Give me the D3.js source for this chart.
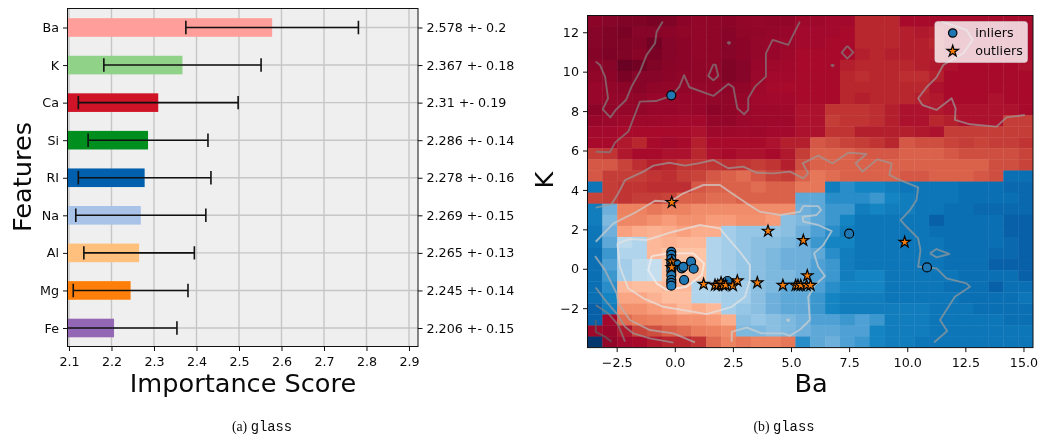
<!DOCTYPE html>
<html>
<head>
<meta charset="utf-8">
<title>glass</title>
<script src="https://d3js.org/d3.v7.min.js"></script>
<style>
  body { margin: 0; background: #fff; }
  svg { display: block; filter: blur(0.35px); }
  text { font-family: "DejaVu Sans", sans-serif; fill: #0a0a0a; }
  .tick text { font-size: 12.7px; }
  .tick line, .domain { stroke: #111; }
  .axislabel { font-size: 25.6px; }
  .caption { font-size: 13.8px; font-family: "Liberation Serif", serif; }
  .caption tspan { font-family: "Liberation Mono", monospace; }
</style>
</head>
<body>
<div id="chart"></div>
<script>
// left panel: feature importance
const features = ["Ba", "K", "Ca", "Si", "RI", "Na", "Al", "Mg", "Fe"];
const scores = [2.578, 2.367, 2.31, 2.286, 2.278, 2.269, 2.265, 2.245, 2.206];
const errors = [0.203, 0.185, 0.188, 0.141, 0.156, 0.153, 0.13, 0.135, 0.148];
const scoreLabels = ["2.578 +- 0.2", "2.367 +- 0.18", "2.31 +- 0.19", "2.286 +- 0.14", "2.278 +- 0.16",
  "2.269 +- 0.15", "2.265 +- 0.13", "2.245 +- 0.14", "2.206 +- 0.15"];
const barColors = ["#ff9e9a", "#90d288", "#cf1427", "#008f1f", "#0060ae", "#a8c2e8", "#ffc07e", "#ff7f0a", "#9467b4"];
const scoreTicks = [2.1, 2.2, 2.3, 2.4, 2.5, 2.6, 2.7, 2.8, 2.9];

// right panel: decision surface, 30 x 30 cells, top row first
const heatRows = [
  [14,12,10,10,8,10,14,16,15,14,16,17,16,16,20,20,22,22,32,32,32,24,24,24,24,24,24,24,24,24],
  [12,10,8,12,12,14,15,16,15,13,15,16,17,18,22,22,22,24,32,32,32,30,28,30,24,22,24,24,24,24],
  [12,10,10,11,6,12,14,16,15,12,14,17,18,19,22,22,24,24,32,32,32,30,30,32,24,24,24,24,24,24],
  [11,9,10,13,8,12,14,16,15,12,14,17,18,20,24,24,24,24,30,32,30,30,30,30,26,24,24,24,24,24],
  [14,12,4,6,10,13,14,15,15,10,12,18,20,21,24,24,24,30,32,32,32,32,30,28,26,24,24,24,24,26],
  [16,14,8,12,12,14,15,15,15,10,12,19,22,22,24,24,24,32,34,32,32,34,34,30,24,24,24,24,24,24],
  [18,16,14,13,15,16,16,17,16,14,15,20,23,24,24,24,24,32,32,32,32,32,32,26,24,24,24,24,24,24],
  [18,17,16,16,18,18,18,18,16,15,17,21,22,22,24,24,24,32,30,32,32,32,30,28,24,24,24,26,24,24],
  [14,16,17,16,18,18,19,18,14,15,18,20,20,21,26,26,36,36,36,34,30,26,26,28,26,26,26,26,26,24],
  [18,19,20,20,20,21,22,22,17,16,19,20,20,20,26,26,38,36,36,34,30,26,26,32,30,26,26,26,38,38],
  [22,22,24,24,24,24,24,26,20,20,21,20,22,22,26,26,36,36,30,30,30,30,28,26,38,38,38,38,38,38],
  [24,24,28,32,24,22,24,30,24,24,24,24,26,30,30,44,42,40,38,36,32,44,42,42,40,38,40,38,38,36],
  [38,36,28,24,24,26,26,32,26,24,26,26,24,28,38,46,46,46,44,44,44,46,46,46,44,42,42,42,42,40],
  [44,44,40,34,30,32,36,36,36,34,36,38,36,30,42,46,46,46,46,46,46,46,46,46,46,46,46,42,42,40],
  [44,38,38,38,36,34,38,40,44,46,48,44,40,38,46,50,48,46,46,46,46,44,44,46,46,46,44,42,94,94],
  [92,38,36,36,34,34,34,44,46,46,46,48,46,46,50,50,90,86,88,88,90,92,92,92,92,94,94,94,95,95],
  [40,38,36,38,38,40,46,46,48,48,46,46,46,46,80,80,86,86,86,84,88,90,92,92,92,94,94,94,94,95],
  [90,78,52,52,50,52,52,54,54,54,54,54,54,54,78,80,84,84,90,88,90,90,92,92,94,94,95,95,95,95],
  [90,76,53,53,55,57,55,55,57,57,55,55,57,74,76,80,84,88,92,92,92,92,92,96,94,94,94,94,96,96],
  [92,78,58,60,61,60,58,60,60,70,72,72,72,74,78,82,86,90,92,92,92,92,92,94,94,94,94,94,96,96],
  [92,80,66,68,62,61,62,62,68,70,72,74,74,76,78,84,88,88,92,92,92,92,92,92,94,94,94,94,95,96],
  [94,84,68,68,62,64,64,64,68,70,72,74,76,78,78,80,86,90,92,92,92,92,92,92,94,94,94,95,95,96],
  [94,82,70,66,65,64,64,64,68,70,72,74,76,78,78,82,84,90,92,92,92,92,92,92,94,94,94,96,96,96],
  [94,84,70,66,65,64,64,64,68,70,72,74,76,76,78,82,84,90,88,88,92,92,92,92,92,94,94,94,94,96],
  [94,86,62,63,63,62,62,68,68,70,70,74,76,80,80,82,86,88,88,88,92,92,92,92,94,94,94,96,94,94],
  [94,88,59,59,61,63,63,68,68,70,70,74,78,80,80,84,88,90,90,90,92,92,92,92,92,94,94,94,94,92],
  [96,90,55,55,57,59,62,60,62,70,72,74,78,80,80,84,88,90,90,90,90,90,90,92,92,92,94,94,94,94],
  [96,22,48,51,52,53,55,55,57,60,74,72,74,76,78,82,82,84,82,84,90,90,90,92,92,92,92,92,94,94],
  [20,18,28,40,42,46,48,51,52,54,76,76,74,76,78,80,80,82,82,88,90,90,90,92,92,92,92,92,92,92],
  [100,16,22,24,28,32,32,36,48,52,50,52,52,50,86,80,78,82,84,88,90,90,92,92,92,92,92,92,92,92]
];
const heatStops = [0, 8, 16, 24, 32, 40, 46, 52, 58, 64, 64.5, 70, 76, 82, 88, 94, 96, 100];
const heatColors = ["#5a0020", "#7a0325", "#92062a", "#a80a2c", "#b8262e", "#c8443a", "#da624a", "#ec8260", "#f9a07e",
  "#fdc4a6", "#c8e0f0", "#a3cde8", "#7db8df", "#4fa0d4", "#1484c2", "#0a6fb3", "#0860a8", "#06366e"];

// contour lines in data units (Ba, K), darkest level first
const contourA = [[-0.52,12.54],[-0.78,12.03],[-0.85,11.44],[-1.21,10.85],[-1.5,10],[-1.86,9.24],[-2.1,8.56],[-2.54,8.06],[-2.77,7.68],[-3.1,8.09],[-2.87,8.65],[-3,9.75],[-3.22,10.34],[-3.4,10.51]];
const contourB = [[-3.4,5.94],[-2.79,5.91],[-2.57,6.4],[-2,6.96],[-1.5,8.48],[-0.81,8.51],[-0.13,8.78],[0.2,9.24],[0.4,9.82],[0.63,9.21],[1.66,8.77],[2.3,9.38],[2.52,9.21],[2.69,8.14],[2.98,7.84],[3.16,8.06],[3.16,8.65],[3.45,9.24],[3.92,9.75],[3.92,10.93],[4.21,11.61],[4.88,11.36],[5.38,12.54]];
const contourB2 = [[1.66,10.37],[1.44,9.78],[1.66,9.56],[1.87,9.78],[1.76,10.34],[1.66,10.37]];
const contourB3 = [[7.42,11.31],[7.18,10.97],[7.42,10.66],[7.68,10.98],[7.42,11.31]];
const contourB4 = [[2.33,11.52],[2.38,11.47],[2.33,11.42],[2.28,11.47],[2.33,11.52]];
const contourB5 = [[6.79,10.37],[6.84,10.32],[6.79,10.27],[6.74,10.32],[6.79,10.37]];
const contourC = [[11.48,12.54],[12.55,12.12],[12.81,11.61],[12.41,10.93],[11.55,10.34],[11.26,9.71],[10.83,9.21],[10.47,8.65],[10.65,8.31],[11.26,8.06],[11.91,8.65],[12.08,8.14],[12.05,7.55],[12.7,7.33],[13.84,7.21],[14.27,7.68],[15.06,7.8]];
const contourD = [[-3.4,3.1],[-2.72,3.27],[-2.43,3.83],[-2.14,4.5],[-1.35,4.93],[-0.92,5.23],[-0.23,5.38],[0.44,5.23],[1.01,5.35],[1.66,5.52],[2.3,5.1],[2.95,5.18],[3.52,4.87],[4.24,4.84],[4.955,4.93],[5.53,4.59],[5.74,4.84],[5.5,5.35],[6.17,5.74],[6.79,5.35],[7.46,5.89],[8.25,5.82],[7.78,5.35],[8.08,4.93],[8.71,5.55],[9.33,5.35],[9.23,4.76],[9.61,4.54],[10.47,4.13],[10.4,3.49],[10.12,2.98],[9.71,2.47],[9.97,2.13],[10.47,1.54],[10.57,0.95],[10.47,0.1],[11.26,0.02],[11.69,-0.49],[12.55,-0.74],[12.7,-0.91],[12.05,-1.42],[11.41,-2.6],[11.72,-3.16],[11.15,-3.74]];
const contourD2 = [[10.98,0.78],[11.26,1],[11.81,0.75],[11.26,0.58],[10.98,0.78]];
const contourF = [[-3.4,1.37],[-2.64,2.3],[-1.64,2.89],[-0.85,3.45],[-0.21,3.4],[0.37,3.83],[1.23,4.25],[1.94,4.25],[2.45,3.83],[3.09,3.32],[3.66,2.89],[4.55,2.73],[5.39,2.89],[5.53,3.18],[6.17,3.18],[6.29,2.98],[6.1,2.73],[5.5,2.64],[5.53,2.39],[6.17,2.22],[6.75,1.91],[6.39,1.2],[5.99,0.78],[6.17,0.1],[6.46,-0.37],[6.03,-0.83],[5.74,-1.42],[5.81,-2.6],[5.39,-3.08],[4.955,-3.4],[4.67,-3.28],[3.74,-3.28],[3.09,-2.98],[2.45,-3.2],[2.45,-3.7]];
const contourG = [[-2.47,1.29],[-1.93,1.51],[-1.21,1.46],[-0.06,1.88],[1.08,2.22],[1.94,2.05],[2.3,1.54],[2.8,0.86],[3.23,0.19],[3.23,-0.57],[3.02,-1.42],[2.45,-1.93],[1.37,-2.3],[0.37,-2.1],[-0.49,-1.93],[-1.35,-1.5],[-2,-1],[-2.36,0.1],[-2.47,1.29]];
const contourH = [[-0.99,0.64],[-0.28,0.78],[0.8,0.78],[1.26,0.27],[1.16,-0.32],[0.51,-0.91],[-0.35,-1.08],[-0.78,-0.74],[-1.14,-0.07],[-0.99,0.64]];
const contourL1 = [[-3.43,0.64],[-3,-0.07],[-2.72,-0.74],[-2.5,-1.25],[-2.43,-1.76],[-1.93,-2.6],[-1.07,-3.11],[-0.06,-3.28],[0.87,-3.74]];
const contourL2 = [[-3.4,-0.95],[-3,-1.59],[-2.5,-2.27],[-2.14,-2.94],[-1.78,-3.28],[-1.07,-3.53],[-0.06,-3.75]];
const contourL3 = [[-3.4,-1.84],[-2.86,-2.27],[-2.43,-2.86],[-2.14,-3.7]];
const contourL4 = [[-3.4,-2.6],[-3.4,-3.2],[-3,-3.45],[-2.72,-3.7]];
const contourDot = [[4.88,-2.55],[4.93,-2.6],[4.88,-2.65],[4.83,-2.6],[4.88,-2.55]];
const contourSets = [
  [contourL4],
  [contourA, contourB, contourB2, contourB3, contourB4, contourB5, contourL3],
  [contourC, contourD, contourD2, contourL2],
  [contourL1],
  [contourF, contourDot],
  [contourG],
  [contourH]
];
const levelColors = ["#606060", "#808080", "#9a9a9a", "#b4b4b4", "#cfcfcf", "#e4e4e4", "#f2f2f2"];

const inliers = [[-0.15,8.8],[7.5,1.78],[10.85,0.07],[-0.15,0.86],[-0.15,0.7],[-0.15,0.5],[-0.15,0.3],[-0.15,0.1],[-0.15,-0.1],[-0.15,-0.32],[-0.15,-0.57],[-0.15,-0.72],[-0.15,-0.86],[0.08,0.22],[0.3,0.02],[0.37,0.1],[0.7,0.36],[0.81,0],[0.4,-0.57],[2.1,-0.75],[2.27,-0.62],[1.95,-0.8]];
const outliers = [[-0.13,3.37],[-0.13,0.36],[-0.13,0.07],[1.24,-0.78],[1.73,-0.83],[1.85,-0.84],[1.99,-0.71],[2.08,-0.84],[2.19,-0.83],[2.5,-0.86],[2.69,-0.61],[3.55,-0.71],[4.65,-0.84],[4.01,1.91],[5.53,1.44],[9.89,1.35],[5.7,-0.35],[5.2,-0.84],[5.3,-0.84],[5.42,-0.84],[5.67,-0.84],[5.84,-0.84]];
const baTicks = [-2.5, 0, 2.5, 5, 7.5, 10, 12.5, 15];
const kTicks = [-2, 0, 2, 4, 6, 8, 10, 12];

let svg = d3.select("#chart").append("svg")
  .attr("width", 1038).attr("height", 441);

// ---- left panel
const left1 = 67.5, right1 = 418, top1 = 8.5, bottom1 = 346.5;
let x1 = d3.scaleLinear().domain([2.0965, 2.9212]).range([left1, right1]);
let y1 = d3.scalePoint().domain(features).range([27.5, 328]);

svg.append("rect").attr("x", left1).attr("y", top1)
  .attr("width", right1 - left1).attr("height", bottom1 - top1).attr("fill", "#efefef");
svg.append("clipPath").attr("id", "clip1").append("rect")
  .attr("x", left1).attr("y", top1).attr("width", right1 - left1).attr("height", bottom1 - top1);

svg.append("g").selectAll("line").data(scoreTicks).enter().append("line")
  .attr("x1", d => x1(d)).attr("x2", d => x1(d))
  .attr("y1", top1).attr("y2", bottom1)
  .attr("stroke", "#c6c6c6").attr("stroke-width", 1.4);
svg.append("g").selectAll("line").data(features).enter().append("line")
  .attr("x1", left1).attr("x2", right1)
  .attr("y1", d => y1(d)).attr("y2", d => y1(d))
  .attr("stroke", "#c6c6c6").attr("stroke-width", 1.4);

let plot1 = svg.append("g").attr("clip-path", "url(#clip1)");
plot1.selectAll("rect").data(features).enter().append("rect")
  .attr("x", left1)
  .attr("y", d => y1(d) - 9.3)
  .attr("height", 18.6)
  .attr("width", (d, i) => x1(scores[i]) - left1)
  .attr("fill", (d, i) => barColors[i]);

let errs = plot1.selectAll("g.err").data(features).enter().append("g").attr("class", "err")
  .attr("stroke", "#111").attr("stroke-width", 1.6);
errs.append("line")
  .attr("x1", (d, i) => x1(scores[i] - errors[i]))
  .attr("x2", (d, i) => x1(scores[i] + errors[i]))
  .attr("y1", d => y1(d)).attr("y2", d => y1(d));
[-1, 1].forEach(function(side) {
  errs.append("line")
    .attr("x1", (d, i) => x1(scores[i] + side * errors[i]))
    .attr("x2", (d, i) => x1(scores[i] + side * errors[i]))
    .attr("y1", d => y1(d) - 6.7).attr("y2", d => y1(d) + 6.7);
});

svg.append("g").attr("transform", "translate(0," + bottom1 + ")")
  .call(d3.axisBottom(x1).tickValues(scoreTicks).tickFormat(d3.format(".1f")).tickSize(4.5).tickPadding(5.5))
  .call(g => g.select(".domain").remove());
svg.append("g").attr("transform", "translate(" + left1 + ",0)")
  .call(d3.axisLeft(y1).tickSize(4.5).tickPadding(4))
  .call(g => g.select(".domain").remove());
svg.append("g").attr("transform", "translate(" + right1 + ",0)")
  .call(d3.axisRight(y1).tickSize(4.5).tickPadding(4).tickFormat((d, i) => scoreLabels[i]))
  .call(g => g.select(".domain").remove());
svg.append("rect").attr("x", left1).attr("y", top1)
  .attr("width", right1 - left1).attr("height", bottom1 - top1)
  .attr("fill", "none").attr("stroke", "#111");

svg.append("text").attr("class", "axislabel").attr("text-anchor", "middle")
  .attr("x", 243).attr("y", 392).text("Importance Score");
svg.append("text").attr("class", "axislabel").attr("text-anchor", "middle")
  .attr("transform", "translate(31,177) rotate(-90)").text("Features");

// ---- right panel
let x2 = d3.scaleLinear().domain([-3.755, 15.41]).range([587.5, 1033]);
let y2 = d3.scaleLinear().domain([-4, 12.85]).range([347.6, 15.5]);
let colBand = d3.scaleBand().domain(d3.range(30)).range([587.5, 1033]);
let rowBand = d3.scaleBand().domain(d3.range(30)).range([15.5, 347.6]);
let heatColor = d3.scaleLinear().domain(heatStops).range(heatColors);

svg.append("clipPath").attr("id", "clip2").append("rect")
  .attr("x", 587.5).attr("y", 15.5).attr("width", 445.5).attr("height", 332.1);
let plot2 = svg.append("g").attr("clip-path", "url(#clip2)");

heatRows.forEach(function(row, r) {
  plot2.append("g").selectAll("rect").data(row).enter().append("rect")
    .attr("x", (d, c) => colBand(c))
    .attr("y", rowBand(r))
    .attr("width", colBand.bandwidth() + 0.4)
    .attr("height", rowBand.bandwidth() + 0.4)
    .attr("fill", d => heatColor(d));
});

let contourLine = d3.line().x(d => x2(d[0])).y(d => y2(d[1]));
contourSets.forEach(function(set, level) {
  plot2.append("g").selectAll("path").data(set).enter().append("path")
    .attr("d", contourLine)
    .attr("fill", "none")
    .attr("stroke", levelColors[level])
    .attr("stroke-opacity", 0.7)
    .attr("stroke-width", 1.9)
    .attr("stroke-linejoin", "round");
});

plot2.append("g").selectAll("circle").data(inliers).enter().append("circle")
  .attr("cx", d => x2(d[0])).attr("cy", d => y2(d[1])).attr("r", 4.5)
  .attr("fill", "#1f77b4").attr("stroke", "#050505").attr("stroke-width", 1.2);

let star = d3.symbol().type(d3.symbolStar).size(40);
plot2.append("g").selectAll("path").data(outliers).enter().append("path")
  .attr("d", star)
  .attr("transform", d => "translate(" + x2(d[0]) + "," + y2(d[1]) + ")")
  .attr("fill", "#f57c0a").attr("stroke", "#050505").attr("stroke-width", 1.2);

svg.append("g").attr("transform", "translate(0,347.6)")
  .call(d3.axisBottom(x2).tickValues(baTicks).tickFormat(d3.format(".1f")).tickSize(4.5).tickPadding(5.5))
  .call(g => g.select(".domain").remove());
svg.append("g").attr("transform", "translate(587.5,0)")
  .call(d3.axisLeft(y2).tickValues(kTicks).tickFormat(d3.format("d")).tickSize(4.5).tickPadding(4))
  .call(g => g.select(".domain").remove());
svg.append("rect").attr("x", 587.5).attr("y", 15.5).attr("width", 445.5).attr("height", 332.1)
  .attr("fill", "none").attr("stroke", "#111");

// legend
let legend = svg.append("g").attr("transform", "translate(935,21.7)");
legend.append("rect").attr("width", 92.3).attr("height", 40.6).attr("rx", 2.5)
  .attr("fill", "#fff").attr("fill-opacity", 0.8).attr("stroke", "#ddd").attr("stroke-opacity", 0.8);
legend.append("circle").attr("cx", 17.7).attr("cy", 11.3).attr("r", 4.2)
  .attr("fill", "#1f77b4").attr("stroke", "#050505").attr("stroke-width", 1.2);
legend.append("path").attr("d", star).attr("transform", "translate(17.7,29.5)")
  .attr("fill", "#f57c0a").attr("stroke", "#050505").attr("stroke-width", 1.2);
legend.append("text").attr("x", 40.3).attr("y", 15.7).style("font-size", "12.7px").text("inliers");
legend.append("text").attr("x", 40.3).attr("y", 33.7).style("font-size", "12.7px").text("outliers");

svg.append("text").attr("class", "axislabel").attr("text-anchor", "middle")
  .attr("x", 811).attr("y", 392).text("Ba");
svg.append("text").attr("class", "axislabel").attr("text-anchor", "middle")
  .attr("transform", "translate(553,180) rotate(-90)").text("K");

// captions
[["(a) ", 262], ["(b) ", 784]].forEach(function(c) {
  let t = svg.append("text").attr("class", "caption").attr("text-anchor", "middle")
    .attr("x", c[1]).attr("y", 431).text(c[0]);
  t.append("tspan").text("glass");
});
</script>
</body>
</html>
